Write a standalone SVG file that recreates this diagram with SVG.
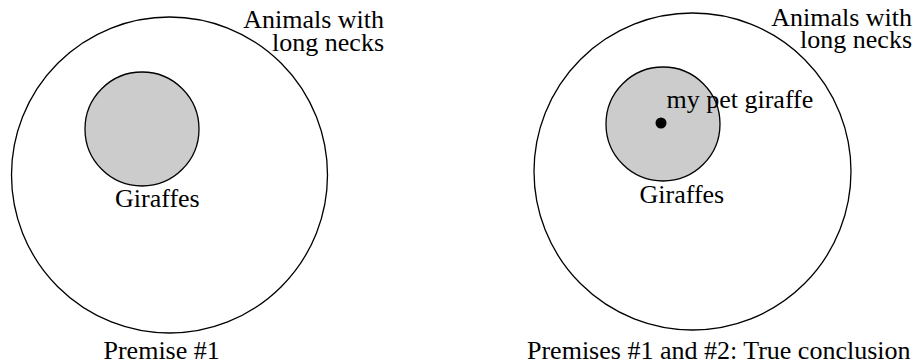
<svg xmlns="http://www.w3.org/2000/svg" width="913" height="364" viewBox="0 0 913 364" font-family="'Liberation Serif', 'Times New Roman', serif">
<style>
  .big { fill: #ffffff; stroke: #000000; stroke-width: 1.3; }
  .small { fill: #cccccc; stroke: #000000; stroke-width: 1.3; }
  .dot { fill: #000000; }
  text { font-family: "Liberation Serif", "Times New Roman", serif; font-size: 26px; fill: #000000; }
</style>
<rect width="913" height="364" fill="#ffffff"/>
<g id="left-diagram">
  <g id="left-animals">
    <circle class="big" cx="169.5" cy="175" r="158"/>
    <text text-anchor="end"><tspan x="384" y="28">Animals with</tspan><tspan x="384" y="51">long necks</tspan></text>
  </g>
  <g id="left-giraffes">
    <circle class="small" cx="142" cy="129" r="57"/>
    <text x="115" y="206.5">Giraffes</text>
  </g>
  <text id="left-caption" x="103.5" y="359">Premise #1</text>
</g>
<g id="right-diagram">
  <g id="right-animals">
    <circle class="big" cx="692.5" cy="171.5" r="158.5"/>
    <text text-anchor="end"><tspan x="912" y="25.5">Animals with</tspan><tspan x="912" y="47.5">long necks</tspan></text>
  </g>
  <g id="right-giraffes">
    <circle class="small" cx="663" cy="124" r="57"/>
    <text x="639.5" y="203.3">Giraffes</text>
  </g>
  <g id="pet-giraffe">
    <circle class="dot" cx="661" cy="123" r="5.5"/>
    <text x="666.5" y="108.3">my pet giraffe</text>
  </g>
  <text id="right-caption" x="527" y="359.3">Premises #1 and #2: True conclusion</text>
</g>
<g id="connectors"></g>
</svg>
